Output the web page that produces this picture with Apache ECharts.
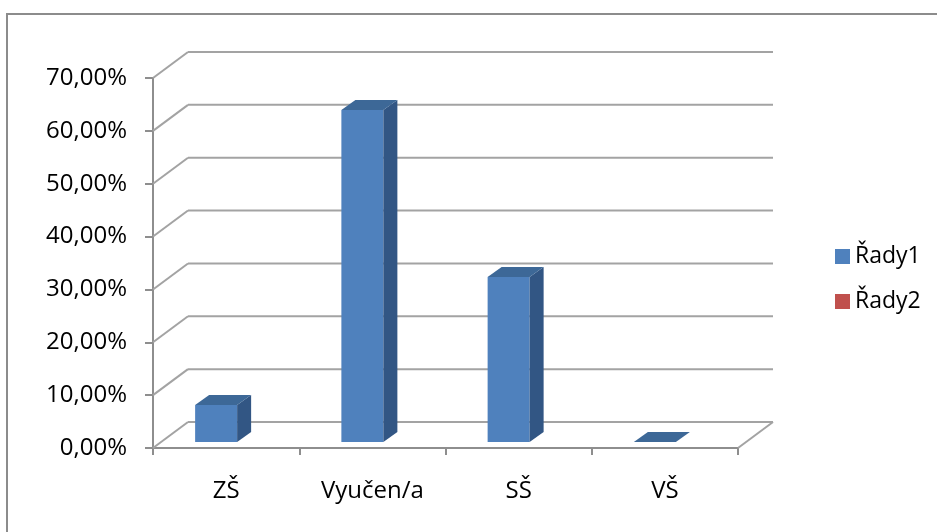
<!DOCTYPE html>
<html>
<head>
<meta charset="utf-8">
<script src="https://cdn.jsdelivr.net/npm/echarts@6/dist/echarts.min.js"></script>
<style>
  html, body { margin: 0; padding: 0; background: #ffffff; }
  #chart { width: 937px; height: 532px; }
</style>
</head>
<body>
<div id="chart"></div>
<script>
// Education level shares
const categories = ['ZŠ', 'Vyučen/a', 'SŠ', 'VŠ'];
const series1Values = [0.07, 0.628, 0.312, 0];
const series2Values = [];
const seriesNames = ['Řady1', 'Řady2'];
const yTicks = [0, 0.1, 0.2, 0.3, 0.4, 0.5, 0.6, 0.7];

// 3D look: back-wall offset, bar depth and bar placement in the slot
const WALL_DX = 35, WALL_DY = -26;
const BAR_DX = 14, BAR_DY = -10;
const BAR_LIFT = 6, BAR_LEFT = -31, BAR_RIGHT = 11;

const FONT = '"Open Sans", "Noto Sans", sans-serif';
const GRID_COLOR = '#a3a3a3';
const AXIS_COLOR = '#8e8e8e';

const COLORS = {
  s1: '#4f81bd', s1Top: '#3d6897', s1Side: '#325684',
  s2: '#c0504d'
};

function pct(v) {
  return (v * 100).toFixed(2).replace('.', ',') + '%';
}

// gridlines on the back wall plus the diagonal connectors from the front axis
function renderWall(params, api) {
  const cs = params.coordSys;
  const v = api.value(1);
  const y = api.coord([0, v])[1];
  const xl = cs.x, xr = cs.x + cs.width;
  const style = { stroke: GRID_COLOR, lineWidth: 2, fill: null };
  const children = [
    { type: 'line', shape: { x1: xl, y1: y, x2: xl + WALL_DX, y2: y + WALL_DY }, style: style },
    { type: 'line', shape: { x1: xl + WALL_DX, y1: y + WALL_DY, x2: xr + WALL_DX, y2: y + WALL_DY }, style: style }
  ];
  if (v === 0) {
    children.push({ type: 'line', shape: { x1: xr, y1: y, x2: xr + WALL_DX, y2: y + WALL_DY }, style: style });
  }
  return { type: 'group', silent: true, children: children };
}

// box-shaped columns: front face, right side and top
function renderBar(params, api) {
  const ci = api.value(0);
  const v = api.value(1);
  const base = api.coord([ci, 0]);
  const top = api.coord([ci, v]);
  const L = base[0] + BAR_LEFT, R = base[0] + BAR_RIGHT;
  const B = base[1] - BAR_LIFT, T = top[1] - BAR_LIFT;
  const children = [];
  if (B - T > 0.5) {
    children.push({
      type: 'rect', shape: { x: L, y: T, width: R - L, height: B - T },
      style: { fill: COLORS.s1 }
    });
    children.push({
      type: 'polygon',
      shape: { points: [[R, T], [R + BAR_DX, T + BAR_DY], [R + BAR_DX, B + BAR_DY], [R, B]] },
      style: { fill: COLORS.s1Side }
    });
  }
  children.push({
    type: 'polygon',
    shape: { points: [[L, T], [R, T], [R + BAR_DX, T + BAR_DY], [L + BAR_DX, T + BAR_DY]] },
    style: { fill: COLORS.s1Top }
  });
  return { type: 'group', children: children };
}

const chart = echarts.init(document.getElementById('chart'), null, { renderer: 'canvas' });

chart.setOption({
  backgroundColor: '#ffffff',
  animation: false,
  textStyle: { fontFamily: FONT },
  graphic: [{
    type: 'rect', silent: true, z: 100,
    shape: { x: 7, y: 14, width: 980, height: 600 },
    style: { fill: null, stroke: '#8c8c8c', lineWidth: 2 }
  }],
  legend: {
    orient: 'vertical',
    left: 830, top: 240,
    itemWidth: 15, itemHeight: 15, itemGap: 22,
    textStyle: { fontFamily: FONT, fontSize: 23, color: '#000000' },
    data: [
      { name: seriesNames[0], icon: 'rect', itemStyle: { color: COLORS.s1 } },
      { name: seriesNames[1], icon: 'rect', itemStyle: { color: COLORS.s2 } }
    ]
  },
  grid: { left: 153, top: 78, width: 585, height: 370, containLabel: false },
  xAxis: {
    type: 'category',
    data: categories,
    boundaryGap: true,
    axisLine: { lineStyle: { color: AXIS_COLOR, width: 2 } },
    axisTick: { show: true, length: 7, alignWithLabel: false, lineStyle: { color: AXIS_COLOR, width: 2 } },
    axisLabel: { margin: 31, fontFamily: FONT, fontSize: 24, color: '#000000' },
    splitLine: { show: false }
  },
  yAxis: {
    type: 'value',
    min: 0, max: 0.7, interval: 0.1,
    axisLine: { show: true, lineStyle: { color: AXIS_COLOR, width: 2 } },
    axisTick: { show: true, length: 8, lineStyle: { color: AXIS_COLOR, width: 2 } },
    axisLabel: { margin: 26, fontFamily: FONT, fontSize: 24, color: '#000000', formatter: pct },
    splitLine: { show: false }
  },
  series: [
    {
      name: 'wall', type: 'custom', renderItem: renderWall, z: 1, silent: true,
      encode: { x: 0, y: 1 },
      data: yTicks.map(function (v) { return [0, v]; })
    },
    {
      name: seriesNames[0], type: 'custom', renderItem: renderBar, z: 5,
      itemStyle: { color: COLORS.s1 },
      encode: { x: 0, y: 1 },
      data: series1Values.map(function (v, i) { return [i, v]; })
    },
    {
      name: seriesNames[1], type: 'custom', renderItem: renderBar, z: 5,
      itemStyle: { color: COLORS.s2 },
      encode: { x: 0, y: 1 },
      data: series2Values.map(function (v, i) { return [i, v]; })
    }
  ]
});
</script>
</body>
</html>
